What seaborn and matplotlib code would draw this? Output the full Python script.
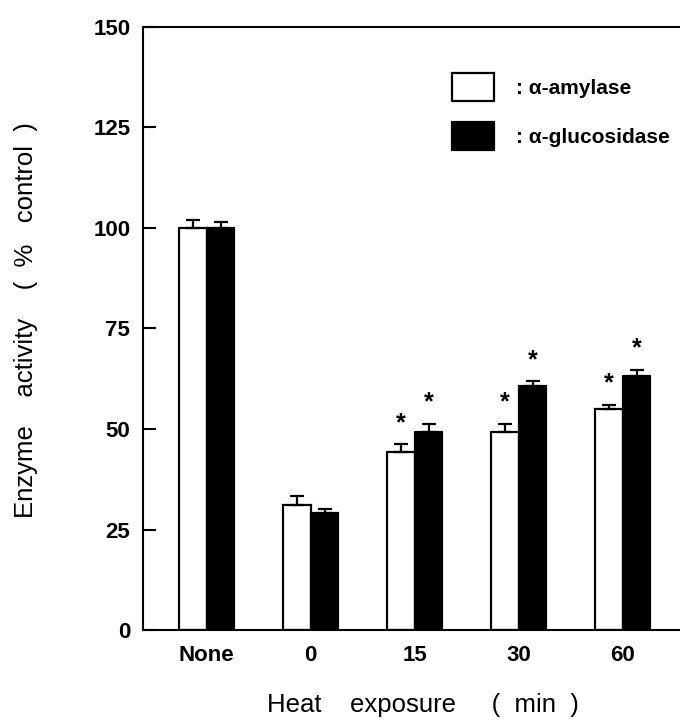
import matplotlib
matplotlib.use('Agg')
import matplotlib.pyplot as plt
from matplotlib.patches import Patch
import numpy as np
import pandas as pd
import seaborn as sns

# values
times = ['None', '0', '15', '30', '60']
enzymes = ['α-amylase', 'α-glucosidase']
amylase = [100.0, 31.1, 44.2, 49.3, 55.0]
amylase_err = [2.0, 2.2, 2.0, 2.0, 1.0]
glucosidase = [100.0, 29.2, 49.3, 60.7, 63.3]
glucosidase_err = [1.5, 0.9, 2.0, 1.2, 1.5]
amylase_sig = [False, False, True, True, True]
glucosidase_sig = [False, False, True, True, True]

df = pd.DataFrame({
    'time': times * 2,
    'enzyme': [enzymes[0]] * len(times) + [enzymes[1]] * len(times),
    'activity': amylase + glucosidase,
})

sns.set_style('ticks')
plt.rcParams['font.family'] = ['Liberation Sans', 'DejaVu Sans']
plt.rcParams['text.color'] = 'black'
plt.rcParams['axes.labelcolor'] = 'black'
plt.rcParams['xtick.color'] = 'black'
plt.rcParams['ytick.color'] = 'black'

fig = plt.figure(figsize=(6.8, 7.23), dpi=100)
ax = fig.add_axes([0.21, 0.1286, 0.79, 0.8341])

sns.barplot(data=df, x='time', y='activity', hue='enzyme', order=times,
            hue_order=enzymes, palette={enzymes[0]: 'white', enzymes[1]: 'black'},
            edgecolor='black', linewidth=1.6, width=0.53, errorbar=None,
            legend=False, ax=ax)

errs = [amylase_err, glucosidase_err]
sigs = [amylase_sig, glucosidase_sig]
for cont, err, sig in zip(ax.containers, errs, sigs):
    xs = np.array([b.get_x() + b.get_width() / 2 for b in cont])
    hs = np.array([b.get_height() for b in cont])
    ax.errorbar(xs, hs, yerr=[np.zeros_like(hs), err], fmt='none',
                ecolor='black', elinewidth=1.6, capsize=5, capthick=1.6, zorder=3)
    # significance marks sit a little above the error caps
    for x, h, e, s in zip(xs, hs, err, sig):
        if s:
            ax.text(x, h + e + 5.3, '*', ha='center', va='center',
                    fontsize=18, fontweight='bold')

ax.set_ylim(0, 150)
ax.set_xlim(-0.615, 4.55)
ax.set_yticks([0, 25, 50, 75, 100, 125, 150])
ax.tick_params(axis='y', direction='in', length=9, width=1.5, pad=9, labelsize=16)
ax.tick_params(axis='x', length=0, pad=11, labelsize=16)
for lab in ax.get_xticklabels() + ax.get_yticklabels():
    lab.set_fontweight('bold')

for side in ['left', 'top', 'bottom']:
    ax.spines[side].set_linewidth(1.5)
    ax.spines[side].set_color('black')
ax.spines['right'].set_visible(False)

ax.set_xlabel('Heat    exposure     (  min  )', fontsize=18.5)
ax.set_ylabel('Enzyme    activity    (  %   control  )', fontsize=18.5)
ax.xaxis.set_label_coords(0.521, -0.105)
ax.yaxis.set_label_coords(-0.195, 0.514)

handles = [Patch(facecolor='white', edgecolor='black', linewidth=1.6),
           Patch(facecolor='black', edgecolor='black', linewidth=1.6)]
ax.legend(handles, [': ' + e for e in enzymes], loc='upper left',
          bbox_to_anchor=(0.5754, 0.9237), frameon=False, borderpad=0,
          borderaxespad=0, handlelength=2.0, handleheight=1.69,
          labelspacing=1.0, handletextpad=1.1,
          prop={'weight': 'bold', 'size': 15})

fig.savefig('out.png', dpi=100)
